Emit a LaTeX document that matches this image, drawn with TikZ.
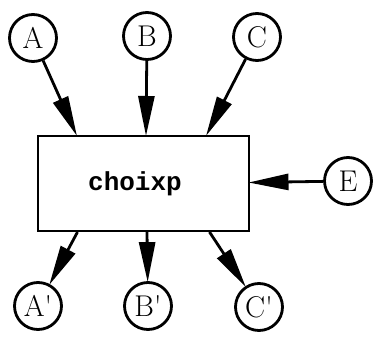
\documentclass[tikz,border=0pt]{standalone}
\usepackage{fontspec}
\newfontfamily\typewriter{Liberation Mono}
\usetikzlibrary{arrows.meta,calc}
\begin{document}
\begin{tikzpicture}[x=1pt,y=-1pt,
  port/.style={draw,circle,line width=2.8pt,minimum size=47pt,inner sep=0pt,
    font=\fontsize{30}{30}\selectfont},
  proc/.style={draw,line width=2pt,minimum width=211pt,minimum height=95pt,inner sep=0pt},
  procname/.style={inner sep=0pt,font=\typewriter\bfseries\fontsize{26}{26}\selectfont},
  flow/.style={line width=2.8pt,-{Triangle[length=40pt,width=16pt]},shorten >=-1pt}]
\useasboundingbox (0,0) rectangle (374,339);
\node[proc] (box) at (143,183.5) {};
\node[procname] (name) at (135,183.5) {choixp};
\node[port] (A) at (33,38) {A};
\node[port] (B) at (147,36) {B};
\node[port] (C) at (257,37) {C};
\node[port] (E) at (348,181) {E};
\node[port] (A2) at (38,306) {A\textquotesingle};
\node[port] (B2) at (148,306) {B\textquotesingle};
\node[port] (C2) at (259,307) {C\textquotesingle};
\draw[flow] (A) -- ($(box.north west)+(40,0)$);
\draw[flow] (B) -- ($(box.north)+(3,0)$);
\draw[flow] (C) -- ($(box.north west)+(170,0)$);
\draw[flow] (E) -- ($(box.east)+(0,-1)$);
\draw[flow] ($(box.south west)+(41,0)$) -- (A2);
\draw[flow] ($(box.south)+(4,0)$) -- (B2);
\draw[flow] ($(box.south west)+(173,0)$) -- (C2);
\end{tikzpicture}
\end{document}
